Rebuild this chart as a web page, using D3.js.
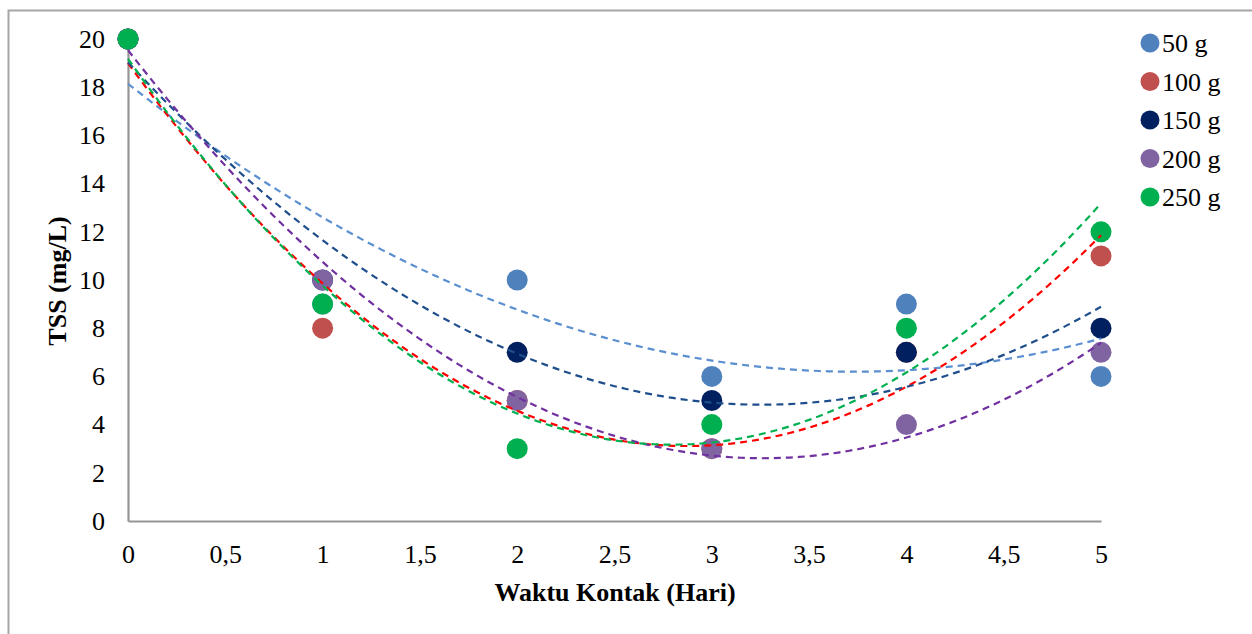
<!DOCTYPE html>
<html><head><meta charset="utf-8">
<script src="https://cdn.jsdelivr.net/npm/d3@7"></script>
<style>body{margin:0;background:#fff}svg{display:block} text{font-family:"Liberation Serif","Times New Roman","DejaVu Serif",serif;}</style>
</head><body>
<script>
const days = [0, 1, 2, 3, 4, 5];
const seriesNames = ["50 g", "100 g", "150 g", "200 g", "250 g"];
const tss50  = [20, 9, 10, 6, 9, 6];
const tss100 = [20, 8, 5, 3, 7, 11];
const tss150 = [20, 10, 7, 5, 7, 8];
const tss200 = [20, 10, 5, 3, 4, 7];
const tss250 = [20, 9, 3, 4, 8, 12];
const xTicks = [0, 0.5, 1, 1.5, 2, 2.5, 3, 3.5, 4, 4.5, 5];
const yTicks = [0, 2, 4, 6, 8, 10, 12, 14, 16, 18, 20];

const allSeries = [tss50, tss100, tss150, tss200, tss250];
const markerColors = ["#4F81BD", "#C0504D", "#002060", "#8064A2", "#00B050"];
const lineColors = ["#5B8FD0", "#FF0000", "#1F4E8C", "#7030A0", "#00B050"];

const W = 1252, H = 634;
const svg = d3.select("body").append("svg").attr("width", W).attr("height", H);
const font = '"Liberation Serif","Times New Roman","DejaVu Serif",serif';
const FS = 26;

// outer frame (top and left visible)
svg.append("path").attr("d", `M8.5,${H} V10.5 H${W}`).attr("fill", "none").attr("stroke", "#a6a6a6").attr("stroke-width", 2);

const x = d3.scaleLinear().domain([0, 5]).range([128, 1101]);
const y = d3.scaleLinear().domain([0, 20]).range([521, 39]);

// axes
const xAxis = svg.append("g").attr("transform", `translate(0,${y(0)})`)
  .call(d3.axisBottom(x).tickValues(xTicks).tickSize(0).tickPadding(24)
    .tickFormat(d => String(d).replace(".", ",")));
const yAxis = svg.append("g").attr("transform", `translate(${x(0)},0)`)
  .call(d3.axisLeft(y).tickValues(yTicks).tickSize(0).tickPadding(23));
[xAxis, yAxis].forEach(g => {
  g.attr("font-family", null).attr("font-size", null);
  g.select(".domain").attr("stroke", "#959595").attr("stroke-width", 2.2);
  g.selectAll("text").style("font-family", font).style("font-size", FS + "px").attr("fill", "#000");
});

// least-squares quadratic fit
function quadFit(xs, ys) {
  let S = [0,0,0,0,0], T = [0,0,0];
  xs.forEach((xi, i) => {
    for (let k = 0; k < 5; k++) S[k] += Math.pow(xi, k);
    for (let k = 0; k < 3; k++) T[k] += Math.pow(xi, k) * ys[i];
  });
  const M = [[S[0],S[1],S[2],T[0]],[S[1],S[2],S[3],T[1]],[S[2],S[3],S[4],T[2]]];
  for (let i = 0; i < 3; i++) {
    for (let j = i + 1; j < 3; j++) {
      const f = M[j][i] / M[i][i];
      for (let k = i; k < 4; k++) M[j][k] -= f * M[i][k];
    }
  }
  const c = [0,0,0];
  for (let i = 2; i >= 0; i--) {
    let s = M[i][3];
    for (let k = i + 1; k < 3; k++) s -= M[i][k] * c[k];
    c[i] = s / M[i][i];
  }
  return t => c[0] + c[1] * t + c[2] * t * t;
}

// markers
allSeries.forEach((vals, si) => {
  svg.append("g").selectAll("circle").data(days).join("circle")
    .attr("cx", d => x(d)).attr("cy", (d, i) => y(vals[i])).attr("r", 10.5)
    .attr("fill", markerColors[si]);
});

// trendlines
const samples = d3.range(0, 5.0001, 0.05);
const line = d3.line().x(d => x(d[0])).y(d => y(d[1]));
allSeries.forEach((vals, si) => {
  const f = quadFit(days, vals);
  svg.append("path").datum(samples.map(t => [t, f(t)]))
    .attr("d", line).attr("fill", "none").attr("stroke", lineColors[si])
    .attr("stroke-width", 2.2).attr("stroke-dasharray", "7,5");
});

// axis titles
svg.append("text").attr("x", 615).attr("y", 601).attr("text-anchor", "middle")
  .style("font-family", font).style("font-weight", "bold").style("font-size", FS + "px").text("Waktu Kontak (Hari)");
svg.append("text").attr("transform", "translate(66,281) rotate(-90)").attr("text-anchor", "middle")
  .style("font-family", font).style("font-weight", "bold").style("font-size", FS + "px").text("TSS (mg/L)");

// legend
const lg = svg.append("g");
seriesNames.forEach((name, i) => {
  const yy = 43 + i * 38.5;
  lg.append("circle").attr("cx", 1150).attr("cy", yy).attr("r", 9.5).attr("fill", markerColors[i]);
  lg.append("text").attr("x", 1162).attr("y", yy).attr("dy", "0.35em")
    .style("font-family", font).style("font-size", FS + "px").attr("fill", "#000").text(name);
});
</script>
</body></html>
